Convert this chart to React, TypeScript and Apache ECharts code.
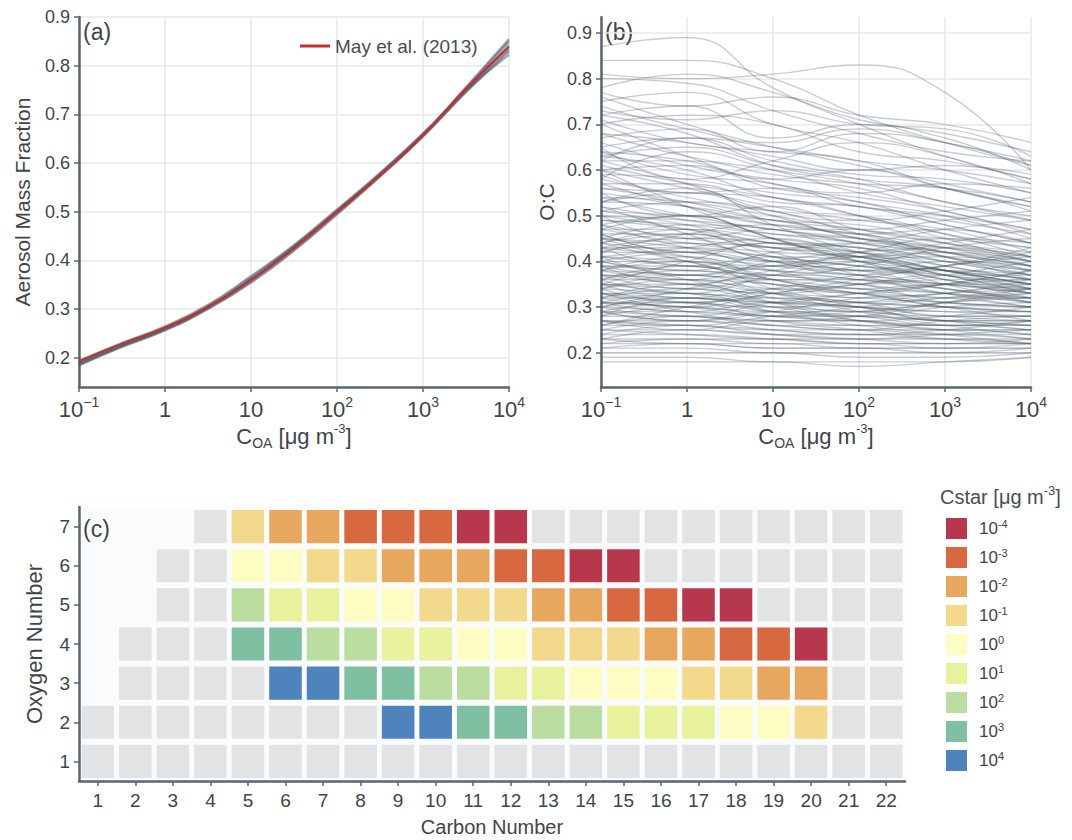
import { useEffect, useRef } from 'react';
import * as echarts from 'echarts';

// ---------- panel (a): aerosol mass fraction vs C_OA ----------
const coaHalfDecades = [0.1, 0.316, 1, 3.16, 10, 31.6, 100, 316, 1000, 3162, 10000];
const mayFraction = [0.193, 0.229, 0.262, 0.305, 0.36, 0.425, 0.5, 0.575, 0.657, 0.753, 0.839];
const ensembleFractions = [
  [0.186, 0.224, 0.258, 0.302, 0.358, 0.424, 0.498, 0.575, 0.658, 0.756, 0.855],
  [0.19, 0.226, 0.26, 0.304, 0.362, 0.428, 0.502, 0.578, 0.66, 0.752, 0.848],
  [0.184, 0.222, 0.256, 0.3, 0.354, 0.42, 0.494, 0.572, 0.654, 0.748, 0.842],
  [0.192, 0.229, 0.263, 0.307, 0.366, 0.43, 0.503, 0.578, 0.659, 0.75, 0.835],
  [0.188, 0.225, 0.259, 0.303, 0.36, 0.426, 0.499, 0.574, 0.655, 0.745, 0.828],
  [0.194, 0.231, 0.265, 0.309, 0.368, 0.432, 0.505, 0.58, 0.661, 0.749, 0.822],
  [0.185, 0.223, 0.257, 0.301, 0.356, 0.421, 0.496, 0.573, 0.656, 0.754, 0.852],
  [0.191, 0.228, 0.261, 0.305, 0.363, 0.429, 0.501, 0.576, 0.657, 0.747, 0.832],
];

// ---------- panel (b): O:C vs C_OA, one trace per ensemble member ----------
const coaDecades = [0.1, 1, 10, 100, 1000, 10000];
const ocTraces = [
  [0.87, 0.89, 0.78, 0.7, 0.63, 0.58],
  [0.84, 0.84, 0.8, 0.72, 0.66, 0.61],
  [0.81, 0.8, 0.81, 0.83, 0.77, 0.6],
  [0.8, 0.79, 0.73, 0.68, 0.64, 0.62],
  [0.78, 0.81, 0.77, 0.71, 0.68, 0.64],
  [0.77, 0.74, 0.76, 0.72, 0.7, 0.66],
  [0.76, 0.7, 0.65, 0.61, 0.57, 0.53],
  [0.75, 0.77, 0.7, 0.66, 0.6, 0.55],
  [0.74, 0.69, 0.66, 0.69, 0.66, 0.62],
  [0.73, 0.71, 0.73, 0.7, 0.69, 0.63],
  [0.72, 0.68, 0.61, 0.58, 0.56, 0.51],
  [0.72, 0.74, 0.67, 0.7, 0.67, 0.6],
  [0.71, 0.66, 0.64, 0.62, 0.56, 0.52],
  [0.7, 0.72, 0.7, 0.64, 0.62, 0.58],
  [0.7, 0.63, 0.57, 0.55, 0.57, 0.56],
  [0.68, 0.63, 0.6, 0.57, 0.53, 0.49],
  [0.68, 0.66, 0.63, 0.6, 0.61, 0.59],
  [0.67, 0.69, 0.64, 0.68, 0.66, 0.61],
  [0.66, 0.61, 0.58, 0.56, 0.51, 0.47],
  [0.65, 0.67, 0.62, 0.59, 0.58, 0.55],
  [0.65, 0.58, 0.62, 0.66, 0.63, 0.57],
  [0.64, 0.59, 0.57, 0.53, 0.5, 0.45],
  [0.64, 0.62, 0.58, 0.6, 0.56, 0.52],
  [0.63, 0.65, 0.61, 0.58, 0.53, 0.5],
  [0.63, 0.6, 0.54, 0.52, 0.48, 0.44],
  [0.62, 0.62, 0.59, 0.57, 0.56, 0.53],
  [0.62, 0.67, 0.65, 0.62, 0.6, 0.57],
  [0.62, 0.57, 0.51, 0.49, 0.51, 0.54],
  [0.61, 0.57, 0.54, 0.5, 0.46, 0.43],
  [0.6, 0.61, 0.56, 0.54, 0.51, 0.46],
  [0.6, 0.56, 0.52, 0.49, 0.47, 0.42],
  [0.6, 0.52, 0.45, 0.4, 0.36, 0.32],
  [0.59, 0.58, 0.55, 0.53, 0.48, 0.44],
  [0.59, 0.55, 0.56, 0.52, 0.5, 0.47],
  [0.58, 0.54, 0.51, 0.5, 0.46, 0.41],
  [0.58, 0.64, 0.6, 0.55, 0.52, 0.49],
  [0.57, 0.57, 0.53, 0.52, 0.49, 0.46],
  [0.57, 0.52, 0.48, 0.47, 0.49, 0.51],
  [0.56, 0.53, 0.49, 0.47, 0.44, 0.41],
  [0.56, 0.55, 0.54, 0.5, 0.45, 0.4],
  [0.55, 0.52, 0.48, 0.46, 0.43, 0.39],
  [0.55, 0.5, 0.52, 0.47, 0.44, 0.42],
  [0.54, 0.53, 0.5, 0.47, 0.45, 0.43],
  [0.54, 0.5, 0.47, 0.45, 0.42, 0.38],
  [0.53, 0.52, 0.49, 0.48, 0.44, 0.4],
  [0.53, 0.55, 0.5, 0.46, 0.47, 0.44],
  [0.53, 0.56, 0.48, 0.42, 0.38, 0.34],
  [0.52, 0.49, 0.46, 0.44, 0.41, 0.37],
  [0.52, 0.46, 0.4, 0.38, 0.39, 0.42],
  [0.51, 0.5, 0.49, 0.45, 0.43, 0.41],
  [0.51, 0.48, 0.44, 0.43, 0.4, 0.37],
  [0.51, 0.53, 0.51, 0.46, 0.42, 0.39],
  [0.5, 0.49, 0.47, 0.44, 0.42, 0.39],
  [0.5, 0.45, 0.47, 0.46, 0.41, 0.38],
  [0.5, 0.47, 0.43, 0.44, 0.47, 0.49],
  [0.49, 0.47, 0.44, 0.42, 0.39, 0.36],
  [0.49, 0.48, 0.46, 0.45, 0.43, 0.4],
  [0.48, 0.45, 0.43, 0.41, 0.38, 0.35],
  [0.48, 0.5, 0.45, 0.41, 0.42, 0.4],
  [0.48, 0.43, 0.4, 0.41, 0.44, 0.47],
  [0.47, 0.47, 0.45, 0.43, 0.41, 0.38],
  [0.47, 0.44, 0.42, 0.41, 0.37, 0.34],
  [0.47, 0.5, 0.45, 0.4, 0.35, 0.31],
  [0.46, 0.46, 0.43, 0.42, 0.4, 0.38],
  [0.46, 0.42, 0.44, 0.43, 0.39, 0.36],
  [0.46, 0.41, 0.39, 0.42, 0.45, 0.44],
  [0.45, 0.43, 0.41, 0.39, 0.37, 0.35],
  [0.45, 0.4, 0.36, 0.33, 0.35, 0.38],
  [0.45, 0.44, 0.43, 0.4, 0.38, 0.36],
  [0.45, 0.48, 0.47, 0.44, 0.4, 0.37],
  [0.44, 0.42, 0.4, 0.39, 0.36, 0.33],
  [0.44, 0.46, 0.41, 0.38, 0.4, 0.39],
  [0.44, 0.47, 0.42, 0.37, 0.33, 0.3],
  [0.44, 0.4, 0.37, 0.39, 0.43, 0.45],
  [0.43, 0.43, 0.41, 0.39, 0.38, 0.36],
  [0.43, 0.41, 0.39, 0.37, 0.35, 0.33],
  [0.43, 0.39, 0.41, 0.4, 0.36, 0.34],
  [0.43, 0.45, 0.44, 0.41, 0.38, 0.35],
  [0.42, 0.42, 0.4, 0.38, 0.37, 0.34],
  [0.42, 0.46, 0.48, 0.45, 0.41, 0.36],
  [0.42, 0.44, 0.4, 0.37, 0.38, 0.37],
  [0.41, 0.4, 0.38, 0.37, 0.35, 0.34],
  [0.41, 0.39, 0.38, 0.36, 0.34, 0.32],
  [0.41, 0.37, 0.39, 0.38, 0.34, 0.32],
  [0.41, 0.43, 0.45, 0.41, 0.37, 0.33],
  [0.4, 0.4, 0.37, 0.36, 0.35, 0.33],
  [0.4, 0.36, 0.32, 0.3, 0.29, 0.28],
  [0.4, 0.42, 0.38, 0.35, 0.36, 0.36],
  [0.4, 0.38, 0.42, 0.44, 0.42, 0.4],
  [0.39, 0.38, 0.37, 0.35, 0.33, 0.32],
  [0.39, 0.39, 0.36, 0.36, 0.34, 0.31],
  [0.39, 0.35, 0.37, 0.36, 0.33, 0.31],
  [0.39, 0.37, 0.39, 0.41, 0.38, 0.35],
  [0.38, 0.37, 0.36, 0.34, 0.33, 0.31],
  [0.38, 0.4, 0.36, 0.34, 0.35, 0.35],
  [0.38, 0.36, 0.4, 0.42, 0.43, 0.41],
  [0.38, 0.41, 0.36, 0.33, 0.3, 0.27],
  [0.37, 0.37, 0.35, 0.34, 0.32, 0.32],
  [0.37, 0.36, 0.34, 0.33, 0.32, 0.3],
  [0.37, 0.34, 0.36, 0.35, 0.31, 0.3],
  [0.37, 0.35, 0.33, 0.35, 0.37, 0.37],
  [0.36, 0.36, 0.35, 0.33, 0.31, 0.3],
  [0.36, 0.38, 0.35, 0.32, 0.33, 0.34],
  [0.36, 0.33, 0.37, 0.4, 0.41, 0.39],
  [0.36, 0.39, 0.34, 0.3, 0.27, 0.25],
  [0.35, 0.34, 0.33, 0.32, 0.31, 0.3],
  [0.35, 0.4, 0.44, 0.42, 0.38, 0.35],
  [0.35, 0.35, 0.33, 0.31, 0.3, 0.29],
  [0.35, 0.32, 0.34, 0.33, 0.3, 0.29],
  [0.35, 0.33, 0.31, 0.33, 0.35, 0.36],
  [0.34, 0.33, 0.32, 0.31, 0.3, 0.29],
  [0.34, 0.36, 0.33, 0.31, 0.32, 0.33],
  [0.34, 0.31, 0.34, 0.37, 0.39, 0.43],
  [0.34, 0.37, 0.33, 0.29, 0.26, 0.24],
  [0.33, 0.33, 0.31, 0.3, 0.29, 0.29],
  [0.33, 0.29, 0.27, 0.28, 0.31, 0.34],
  [0.33, 0.32, 0.31, 0.3, 0.28, 0.27],
  [0.33, 0.31, 0.32, 0.31, 0.28, 0.28],
  [0.33, 0.31, 0.3, 0.31, 0.33, 0.35],
  [0.32, 0.32, 0.3, 0.29, 0.28, 0.28],
  [0.32, 0.34, 0.31, 0.29, 0.31, 0.32],
  [0.32, 0.3, 0.33, 0.35, 0.37, 0.4],
  [0.32, 0.35, 0.31, 0.27, 0.25, 0.23],
  [0.31, 0.3, 0.29, 0.29, 0.27, 0.27],
  [0.31, 0.31, 0.29, 0.28, 0.27, 0.26],
  [0.31, 0.29, 0.31, 0.3, 0.27, 0.27],
  [0.31, 0.33, 0.29, 0.26, 0.24, 0.22],
  [0.31, 0.3, 0.28, 0.29, 0.31, 0.33],
  [0.3, 0.34, 0.38, 0.4, 0.37, 0.33],
  [0.3, 0.29, 0.28, 0.28, 0.27, 0.26],
  [0.3, 0.32, 0.29, 0.28, 0.3, 0.31],
  [0.3, 0.28, 0.31, 0.33, 0.35, 0.38],
  [0.29, 0.29, 0.28, 0.27, 0.26, 0.26],
  [0.29, 0.28, 0.27, 0.26, 0.26, 0.25],
  [0.29, 0.27, 0.29, 0.28, 0.26, 0.26],
  [0.29, 0.31, 0.27, 0.25, 0.23, 0.22],
  [0.29, 0.27, 0.29, 0.32, 0.33, 0.36],
  [0.28, 0.28, 0.26, 0.26, 0.25, 0.25],
  [0.28, 0.32, 0.3, 0.27, 0.26, 0.27],
  [0.28, 0.3, 0.28, 0.27, 0.28, 0.3],
  [0.27, 0.27, 0.26, 0.25, 0.25, 0.24],
  [0.27, 0.26, 0.25, 0.25, 0.24, 0.24],
  [0.27, 0.25, 0.27, 0.27, 0.25, 0.25],
  [0.27, 0.26, 0.28, 0.3, 0.32, 0.34],
  [0.26, 0.3, 0.33, 0.36, 0.39, 0.41],
  [0.26, 0.26, 0.25, 0.24, 0.24, 0.23],
  [0.26, 0.28, 0.26, 0.25, 0.27, 0.28],
  [0.25, 0.25, 0.24, 0.24, 0.23, 0.23],
  [0.25, 0.24, 0.23, 0.23, 0.23, 0.22],
  [0.25, 0.27, 0.25, 0.24, 0.25, 0.27],
  [0.24, 0.24, 0.23, 0.22, 0.22, 0.22],
  [0.24, 0.26, 0.24, 0.23, 0.24, 0.25],
  [0.23, 0.23, 0.22, 0.22, 0.21, 0.21],
  [0.23, 0.22, 0.22, 0.21, 0.21, 0.21],
  [0.23, 0.25, 0.24, 0.23, 0.22, 0.23],
  [0.22, 0.22, 0.21, 0.21, 0.2, 0.21],
  [0.22, 0.23, 0.23, 0.22, 0.22, 0.22],
  [0.21, 0.21, 0.2, 0.2, 0.2, 0.2],
  [0.21, 0.22, 0.21, 0.21, 0.21, 0.22],
  [0.2, 0.2, 0.2, 0.19, 0.19, 0.2],
  [0.19, 0.19, 0.18, 0.18, 0.18, 0.19],
  [0.18, 0.18, 0.18, 0.17, 0.18, 0.19],
];

// ---------- panel (c): log10 C* by carbon / oxygen number ----------
const carbonNumbers = ['1', '2', '3', '4', '5', '6', '7', '8', '9', '10', '11', '12', '13', '14', '15', '16', '17', '18', '19', '20', '21', '22'];
const oxygenNumbers = ['1', '2', '3', '4', '5', '6', '7'];
const _ = null; // no species
const G = 'g'; // species outside the volatility range shown
const cstarO7 = [_, _, _, G, -1, -2, -2, -3, -3, -3, -4, -4, G, G, G, G, G, G, G, G, G, G];
const cstarO6 = [_, _, G, G, 0, 0, -1, -1, -2, -2, -2, -3, -3, -4, -4, G, G, G, G, G, G, G];
const cstarO5 = [_, _, G, G, 2, 1, 1, 0, 0, -1, -1, -1, -2, -2, -3, -3, -4, -4, G, G, G, G];
const cstarO4 = [_, G, G, G, 3, 3, 2, 2, 1, 1, 0, 0, -1, -1, -1, -2, -2, -3, -3, -4, G, G];
const cstarO3 = [_, G, G, G, G, 4, 4, 3, 3, 2, 2, 1, 1, 0, 0, 0, -1, -1, -2, -2, G, G];
const cstarO2 = [G, G, G, G, G, G, G, G, 4, 4, 3, 3, 2, 2, 1, 1, 1, 0, 0, -1, G, G];
const cstarO1 = [G, G, G, G, G, G, G, G, G, G, G, G, G, G, G, G, G, G, G, G, G, G];
const cstarRows = [cstarO1, cstarO2, cstarO3, cstarO4, cstarO5, cstarO6, cstarO7];
const cstarLevels = [-4, -3, -2, -1, 0, 1, 2, 3, 4];
const cstarColors = ['#b7384c', '#d8683f', '#e8a75f', '#f3d98b', '#fdfcc2', '#e8f29c', '#bbdd9f', '#7fbfa2', '#4f83bc'];
const greyCellColor = '#e2e3e5';

const FONT = '"Liberation Sans", Arial, Helvetica, sans-serif';
const TEXT = '#414449';
const AXIS = '#5b6570';
const GRID_LINE = '#e6e8ee';

const decadeLabel = (v: number) => {
  const e = Math.round(Math.log10(v));
  if (e === 0) return '{b|1}';
  if (e === 1) return '{b|10}';
  return `{b|10}{s|${e < 0 ? '\u2212' + -e : e}}`;
};

const decadeRich = {
  b: { fontSize: 22, lineHeight: 28, color: TEXT, fontFamily: FONT },
  s: { fontSize: 14, lineHeight: 13, verticalAlign: 'top', color: TEXT, fontFamily: FONT },
};

const coaName = '{t|C}{sub|OA}{t| [\u03bcg m}{sup|-3}{t|]}';
const coaNameRich = {
  t: { fontSize: 22, lineHeight: 28, color: TEXT, fontFamily: FONT },
  sub: { fontSize: 14, lineHeight: 15, verticalAlign: 'bottom', color: TEXT, fontFamily: FONT },
  sup: { fontSize: 13, lineHeight: 13, verticalAlign: 'top', color: TEXT, fontFamily: FONT },
};

const logXAxis = (gridIndex: number) => ({
  type: 'log',
  logBase: 10,
  gridIndex,
  min: 0.1,
  max: 10000,
  name: coaName,
  nameLocation: 'middle',
  nameGap: 35,
  nameTextStyle: { rich: coaNameRich },
  axisLine: { lineStyle: { color: AXIS, width: 2.5 } },
  axisTick: { lineStyle: { color: AXIS, width: 1.5 }, length: 5 },
  minorTick: { show: false },
  axisLabel: { formatter: decadeLabel, rich: decadeRich, margin: 8 },
  splitLine: { show: true, lineStyle: { color: GRID_LINE, width: 1.5 } },
});

const valueYAxis = (
  gridIndex: number,
  min: number,
  max: number,
  name: string,
  nameGap: number,
  showMax: boolean,
  splitColors: string[],
) => ({
  type: 'value',
  gridIndex,
  min,
  max,
  splitNumber: 8,
  name,
  nameLocation: 'middle',
  nameGap,
  nameTextStyle: { fontSize: 21, color: TEXT, fontFamily: FONT },
  axisLine: { show: true, lineStyle: { color: AXIS, width: 2.5 } },
  axisTick: { show: true, lineStyle: { color: AXIS, width: 1.5 }, length: 5 },
  axisLabel: {
    fontSize: 18,
    color: TEXT,
    margin: 9,
    showMinLabel: false,
    showMaxLabel: showMax,
    formatter: (v: number) => v.toFixed(1),
  },
  splitLine: { show: true, lineStyle: { color: splitColors, width: 1.5 } },
});

// Draws one cell of the C* grid, leaving a white gap around it.
const cellRenderer = (fill: string) => (params: any, api: any) => {
  const c = api.coord([api.value(0), api.value(1)]);
  const size = api.size([1, 1]);
  const gx = 5;
  const gy = 6;
  return {
    type: 'rect',
    shape: {
      x: c[0] - size[0] / 2 + gx / 2,
      y: c[1] - size[1] / 2 + gy / 2,
      width: size[0] - gx,
      height: size[1] - gy,
    },
    style: { fill },
  };
};

function buildOption() {
  const series: any[] = [];

  ensembleFractions.forEach((row, i) => {
    series.push({
      type: 'line',
      name: `ensemble ${i + 1}`,
      xAxisIndex: 0,
      yAxisIndex: 0,
      data: row.map((v, j) => [coaHalfDecades[j], v]),
      smooth: true,
      symbol: 'none',
      silent: true,
      lineStyle: { color: '#4e5762', width: 2.2, opacity: 0.45 },
    });
  });
  series.push({
    type: 'line',
    name: 'May et al. (2013)',
    xAxisIndex: 0,
    yAxisIndex: 0,
    data: mayFraction.map((v, j) => [coaHalfDecades[j], v]),
    smooth: true,
    symbol: 'none',
    silent: true,
    z: 5,
    color: '#c42e2e',
    itemStyle: { color: '#c42e2e' },
    lineStyle: { color: '#c42e2e', width: 2 },
  });

  ocTraces.forEach((row, i) => {
    series.push({
      type: 'line',
      name: `trace ${i + 1}`,
      xAxisIndex: 1,
      yAxisIndex: 1,
      data: row.map((v, j) => [coaDecades[j], v]),
      smooth: true,
      symbol: 'none',
      silent: true,
      lineStyle: { color: '#4a5866', width: 1.4, opacity: 0.3 },
    });
  });

  const greyCells: number[][] = [];
  const levelCells: number[][][] = cstarLevels.map(() => []);
  cstarRows.forEach((row, oi) => {
    row.forEach((val, ci) => {
      if (val === null) return;
      if (val === G) greyCells.push([ci, oi]);
      else levelCells[cstarLevels.indexOf(val as number)].push([ci, oi]);
    });
  });
  series.push({
    type: 'custom',
    name: 'other',
    xAxisIndex: 2,
    yAxisIndex: 2,
    data: greyCells,
    silent: true,
    itemStyle: { color: greyCellColor },
    renderItem: cellRenderer(greyCellColor),
  });
  const levelNames = cstarLevels.map((e) => `10^${e}`);
  cstarLevels.forEach((e, k) => {
    series.push({
      type: 'custom',
      name: levelNames[k],
      xAxisIndex: 2,
      yAxisIndex: 2,
      data: levelCells[k],
      silent: true,
      color: cstarColors[k],
      itemStyle: { color: cstarColors[k] },
      renderItem: cellRenderer(cstarColors[k]),
    });
  });

  const catAxisCommon = {
    axisLine: { show: true, lineStyle: { color: AXIS, width: 2.5 } },
    axisTick: { show: true, alignWithLabel: true, lineStyle: { color: AXIS, width: 1.5 }, length: 5 },
    splitLine: { show: false },
  };

  const gl = GRID_LINE;
  return {
    animation: false,
    backgroundColor: '#ffffff',
    textStyle: { fontFamily: FONT, color: TEXT },
    grid: [
      { left: 79, right: 563, top: 17, bottom: 453 },
      { left: 601, right: 41, top: 17, bottom: 453 },
      { left: 79, right: 167, top: 507, bottom: 59, show: true, backgroundColor: '#fafbfd', borderWidth: 0 },
    ],
    xAxis: [
      logXAxis(0),
      logXAxis(1),
      {
        type: 'category',
        gridIndex: 2,
        data: carbonNumbers,
        name: 'Carbon Number',
        nameLocation: 'middle',
        nameGap: 36,
        nameTextStyle: { fontSize: 20, color: TEXT, fontFamily: FONT },
        axisLabel: { fontSize: 19, color: TEXT, margin: 10, interval: 0 },
        ...catAxisCommon,
      },
    ],
    yAxis: [
      valueYAxis(0, 0.14, 0.9, 'Aerosol Mass Fraction', 46, true, ['transparent', gl, gl, gl, gl, gl, gl, gl, gl]),
      valueYAxis(1, 0.125, 0.935, 'O:C', 44, false, ['transparent', gl, gl, gl, gl, gl, gl, gl, gl, 'transparent']),
      {
        type: 'category',
        gridIndex: 2,
        data: oxygenNumbers,
        name: 'Oxygen Number',
        nameLocation: 'middle',
        nameGap: 34,
        nameTextStyle: { fontSize: 22, color: TEXT, fontFamily: FONT },
        axisLabel: { fontSize: 19, color: TEXT, margin: 9 },
        ...catAxisCommon,
      },
    ],
    legend: [
      {
        data: ['May et al. (2013)'],
        left: 300,
        top: 35,
        padding: 0,
        icon: 'rect',
        itemWidth: 30,
        itemHeight: 3,
        selectedMode: false,
        textStyle: { fontSize: 19, color: '#4a4d52', fontFamily: FONT, lineHeight: 22 },
      },
      {
        data: levelNames,
        orient: 'vertical',
        left: 946,
        top: 518,
        padding: 0,
        icon: 'rect',
        itemWidth: 21,
        itemHeight: 21,
        itemGap: 8,
        selectedMode: false,
        formatter: (name: string) => {
          const e = name.split('^')[1];
          return `{b|10}{s|${e}}`;
        },
        textStyle: {
          rich: {
            b: { fontSize: 17, lineHeight: 21, color: TEXT, fontFamily: FONT, padding: [0, 0, 0, 7] },
            s: { fontSize: 11, lineHeight: 11, verticalAlign: 'top', color: TEXT, fontFamily: FONT },
          },
        },
      },
    ],
    graphic: [
      { type: 'text', left: 83, top: 20, style: { text: '(a)', fontSize: 23, fill: TEXT, fontFamily: FONT } },
      { type: 'text', left: 605, top: 20, style: { text: '(b)', fontSize: 23, fill: TEXT, fontFamily: FONT } },
      { type: 'text', left: 83, top: 517, style: { text: '(c)', fontSize: 23, fill: TEXT, fontFamily: FONT } },
      {
        type: 'text',
        left: 940,
        top: 484,
        style: {
          text: '{t|Cstar [\u03bcg m}{s|-3}{t|]}',
          rich: {
            t: { fontSize: 20, lineHeight: 25, fill: '#4a4d52', fontFamily: FONT },
            s: { fontSize: 13, lineHeight: 12, verticalAlign: 'top', fill: '#4a4d52', fontFamily: FONT },
          },
        },
      },
    ],
    series,
  };
}

export default function App() {
  const ref = useRef<HTMLDivElement>(null);
  useEffect(() => {
    document.body.style.margin = '0';
    const chart = echarts.init(ref.current!, null, { renderer: 'svg' });
    chart.setOption(buildOption() as any);
    return () => chart.dispose();
  }, []);
  return <div ref={ref} style={{ width: 1072, height: 840 }} />;
}
